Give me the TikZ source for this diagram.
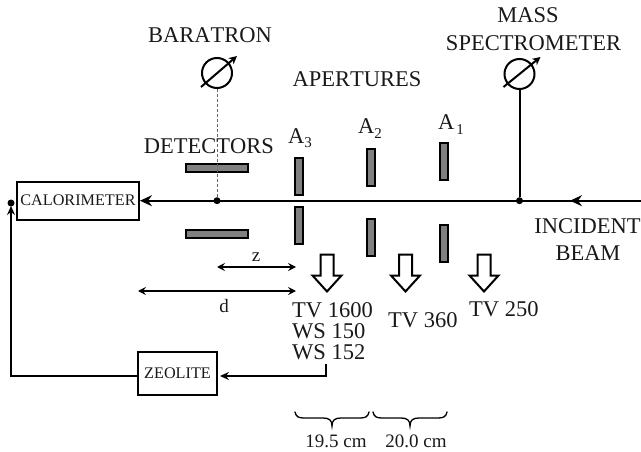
\documentclass[tikz,border=0pt]{standalone}
\usepackage{fontspec}
\setmainfont[Kerning=Off]{Liberation Serif}
\usetikzlibrary{arrows.meta,calc}
\tikzset{
  lbl/.style={inner sep=0pt,font=\fontsize{22.5}{26}\selectfont,text=black!90},
  mid/.style={inner sep=0pt,font=\fontsize{19}{22}\selectfont,text=black!90},
  boxed/.style={draw,line width=2pt,fill=white,inner sep=0pt,font=\fontsize{16.2}{18}\selectfont,text=black!90},
  plate/.style={draw,line width=2pt,fill=black!50,inner sep=0pt,minimum width=#1},
  vplate/.style={plate=8pt,minimum height=37pt},
  hplate/.style={plate=62pt,minimum height=8pt},
  wire/.style={line width=2pt},
  head/.style={-{Stealth[length=12pt,width=11pt,inset=4pt]}},
  small head/.style={-{Stealth[length=9pt,width=8pt,inset=3pt]}},
  dim/.style={line width=1.2pt,{Stealth[length=8pt,width=8pt,inset=3pt]}-{Stealth[length=8pt,width=8pt,inset=3pt]}},
  dotn/.style={circle,fill=black,inner sep=0pt,minimum size=7pt},
  gauge/.style={circle,draw,line width=2pt,inner sep=0pt,minimum size=30pt},
  pump/.style={draw,line width=2pt,fill=white,line join=miter},
  brace line/.style={line width=1.3pt,line cap=round}
}
\newcommand{\pumparrow}[2]{\draw[pump] (#1-6.5,#2) -- (#1+6.5,#2) -- (#1+6.5,#2+21) -- (#1+14.5,#2+21) -- (#1,#2+37) -- (#1-14.5,#2+21) -- (#1-6.5,#2+21) -- cycle;}
\newcommand{\bracepath}[2]{\draw[brace line] (#1,412) .. controls (#1+1,417) and (#1+4,418) .. (#1+9,418) -- (.5*#1+.5*#2-9,418) .. controls (.5*#1+.5*#2-3,418) and (.5*#1+.5*#2,420) .. (.5*#1+.5*#2,426) .. controls (.5*#1+.5*#2,420) and (.5*#1+.5*#2+3,418) .. (.5*#1+.5*#2+9,418) -- (#2-9,418) .. controls (#2-4,418) and (#2-1,417) .. (#2,412);}
\begin{document}
\begin{tikzpicture}[x=1pt,y=-1pt]
\useasboundingbox (0,0) rectangle (641,452);
% nodes
\node[boxed,minimum width=122pt,minimum height=38pt] (cal) at (78,200.7) {CALORIMETER};
\node[boxed,minimum width=79pt,minimum height=43pt] (zeo) at (177.5,373.5) {ZEOLITE};
\node[dotn] (d1) at (217,200.7) {};
\node[dotn] (d2) at (519.5,200.7) {};
\node[dotn] (d3) at (11,203) {};
\node[gauge] (bar) at (217,73) {};
\node[gauge] (ms) at (519.5,74) {};
\coordinate (beamstart) at (641,200.7);
\coordinate (barrow) at (583,200.7);
\coordinate (barrowtip) at (570,200.7);
\coordinate (zc) at (326,364);
\coordinate (zk) at (326,376);
\coordinate (zin) at (220,376);
\coordinate (zout) at (138,376);
\coordinate (lk) at (11,376);
\coordinate (ltip) at (11,206);
% plates
\node[hplate] (dt) at (217,168) {};
\node[hplate] (db) at (217,234) {};
\node[vplate] (a3t) at (298.5,176.5) {};
\node[vplate] (a3b) at (298.5,225.5) {};
\node[vplate] (a2t) at (371,167.5) {};
\node[vplate] (a2b) at (371,237.5) {};
\node[vplate] (a1t) at (443.5,161.5) {};
\node[vplate] (a1b) at (443.5,243.5) {};
% wires
\draw[wire,head] (beamstart) -- (cal.east);
\draw[wire,head] (barrow) -- (barrowtip);
\draw[densely dashed,line width=0.9pt,black!60] (bar.south) -- (d1);
\draw[wire] (ms.south) -- (d2);
\draw[wire,small head] (zc) -- (zk) -- (zin);
\draw[wire,small head] (zout) -- (lk) -- (ltip);
\draw[wire,-{Stealth[length=8pt,width=8pt,inset=2.5pt]}] ($(bar)+(-16,14)$) -- ($(bar)+(20,-17)$);
\draw[wire,-{Stealth[length=8pt,width=8pt,inset=2.5pt]}] ($(ms)+(-16,13)$) -- ($(ms)+(21,-17)$);
% dims
\coordinate (zl) at (217,267);
\coordinate (zr) at (296,267);
\coordinate (dl) at (138,291);
\coordinate (dr) at (296,291);
\draw[dim] (zl) -- (zr);
\draw[dim] (dl) -- (dr);
% pump arrows
\pumparrow{327}{254.5}
\pumparrow{405.5}{254.5}
\pumparrow{484}{254.5}
% braces
\bracepath{295}{369}
\bracepath{373}{447}
% text
\node[lbl] (tbar) at (210,35) {BARATRON};
\node[lbl] (tapt) at (357,79) {APERTURES};
\node[lbl] (tdet) at (209,146) {DETECTORS};
\node[lbl] (tm1) at (528,15) {MASS};
\node[lbl] (tm2) at (533.5,43) {SPECTROMETER};
\node[lbl,anchor=base west] (ta3) at (288,143) {A\raisebox{-5pt}{\fontsize{15}{15}\selectfont 3}};
\node[lbl,anchor=base west] (ta2) at (358,134) {A\raisebox{-5pt}{\fontsize{15}{15}\selectfont 2}};
\node[lbl,anchor=base west] (ta1) at (438,130) {A\hspace{2pt}\raisebox{-5pt}{\fontsize{15}{15}\selectfont 1}};
\node[lbl] (ti1) at (587.5,226) {INCIDENT};
\node[lbl] (ti2) at (588,253) {BEAM};
\node[mid] (tz) at (256,257) {z};
\node[mid] (td) at (224,306) {d};
\node[lbl,anchor=base west] (tv1) at (292,317) {TV 1600};
\node[lbl,anchor=base west] (ws1) at (292,338) {WS 150};
\node[lbl,anchor=base west] (ws2) at (292,359) {WS 152};
\node[lbl,anchor=base west] (tv3) at (388,327) {TV 360};
\node[lbl,anchor=base west] (tv2) at (469,316) {TV 250};
\node[mid] (c1) at (336,441) {19.5 cm};
\node[mid] (c2) at (416,441) {20.0 cm};
\end{tikzpicture}
\end{document}
